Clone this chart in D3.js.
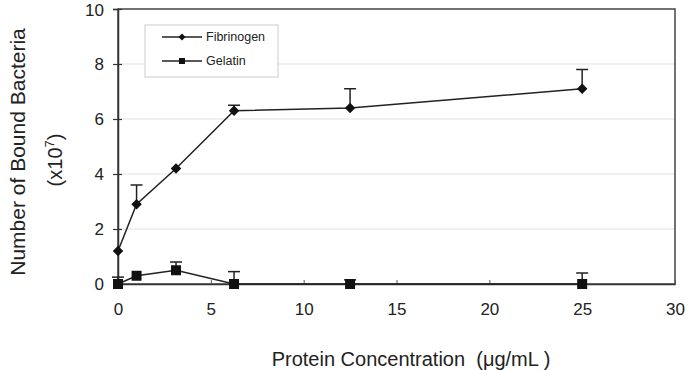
<!DOCTYPE html>
<html>
<head>
<meta charset="utf-8">
<script src="https://cdn.jsdelivr.net/npm/d3@7"></script>
<style>
  body { margin: 0; background: #fff; }
  text { font-family: "Liberation Sans", Arial, sans-serif; fill: #222; }
</style>
</head>
<body>
<div id="chart"></div>
<script>
// Data
const concentrations = [0, 1, 3.125, 6.25, 12.5, 25];
const fibrinogen = [1.2, 2.9, 4.2, 6.3, 6.4, 7.1];
const fibrinogenErr = [0, 0.7, 0, 0.2, 0.7, 0.7];
const gelatin = [0, 0.3, 0.5, 0, 0, 0];
const gelatinErr = [0.25, 0, 0.3, 0.45, 0.15, 0.4];
const xTicks = [0, 5, 10, 15, 20, 25, 30];
const yTicks = [0, 2, 4, 6, 8, 10];

const W = 689, H = 370;
const margin = { top: 9, right: 14, bottom: 86, left: 118 };
const width = W - margin.left - margin.right;
const height = H - margin.top - margin.bottom;

const svg = d3.select('#chart').append('svg')
    .attr('width', W)
    .attr('height', H);

const g = svg.append('g')
    .attr('transform', `translate(${margin.left},${margin.top})`);

const x = d3.scaleLinear().domain([0, 30]).range([0, width]);
const y = d3.scaleLinear().domain([0, 10]).range([height, 0]);

// gridlines
g.selectAll('.grid')
    .data(yTicks.filter(d => d > 0 && d < 10))
    .enter().append('line')
    .attr('x1', 0).attr('x2', width)
    .attr('y1', d => y(d)).attr('y2', d => y(d))
    .attr('stroke', '#e2e2e2')
    .attr('stroke-width', 1.2);

// plot border
g.append('rect')
    .attr('width', width).attr('height', height)
    .attr('fill', 'none')
    .attr('stroke', '#444')
    .attr('stroke-width', 1.5);

// y axis
const yAxis = g.append('g')
    .call(d3.axisLeft(y).tickValues(yTicks).tickSize(5).tickPadding(9));
yAxis.select('.domain').attr('stroke', '#333').attr('stroke-width', 1.5);
yAxis.selectAll('.tick line').attr('stroke', '#333').attr('x2', 4).attr('x1', -5).attr('stroke-width', 1.2);
yAxis.selectAll('text').style('font-size', '17px').attr('fill', '#222');
yAxis.selectAll('.tick').filter(d => d === 10).select('text').attr('dy', '0.4em');

// x axis
const xAxis = g.append('g')
    .attr('transform', `translate(0,${height})`)
    .call(d3.axisBottom(x).tickValues(xTicks).tickSize(0).tickPadding(19));
xAxis.select('.domain').attr('stroke', '#333').attr('stroke-width', 1.5);
xAxis.selectAll('.tick line').attr('stroke', '#555').attr('y1', -4).attr('y2', 0);
xAxis.selectAll('text').style('font-size', '17px').attr('fill', '#222');

// axis titles
svg.append('text')
    .attr('transform', `translate(25,152) rotate(-90)`)
    .attr('text-anchor', 'middle')
    .style('font-size', '21px')
    .text('Number of Bound Bacteria');

const sub = svg.append('text')
    .attr('transform', `translate(62,160) rotate(-90)`)
    .attr('text-anchor', 'middle')
    .style('font-size', '20px');
sub.append('tspan').text('(x10');
sub.append('tspan').attr('dy', -8).style('font-size', '13px').text('7');
sub.append('tspan').attr('dy', 8).text(')');

svg.append('text')
    .attr('x', 411).attr('y', 366)
    .attr('text-anchor', 'middle')
    .style('font-size', '20px')
    .attr('xml:space', 'preserve')
    .text('Protein Concentration  (\u03bcg/mL )');

// series
function drawSeries(values, errs, symbolType, size, rot) {
    const pts = concentrations.map((c, i) => ({ x: c, y: values[i], e: errs[i] }));

    g.append('path')
        .datum(pts)
        .attr('fill', 'none')
        .attr('stroke', '#222')
        .attr('stroke-width', 1.5)
        .attr('d', d3.line().x(d => x(d.x)).y(d => y(d.y)));

    const eb = g.selectAll(null)
        .data(pts.filter(d => d.e > 0))
        .enter().append('g');
    eb.append('line')
        .attr('x1', d => x(d.x)).attr('x2', d => x(d.x))
        .attr('y1', d => y(d.y)).attr('y2', d => y(d.y + d.e))
        .attr('stroke', '#222').attr('stroke-width', 1.5);
    eb.append('line')
        .attr('x1', d => x(d.x) - 6).attr('x2', d => x(d.x) + 6)
        .attr('y1', d => y(d.y + d.e)).attr('y2', d => y(d.y + d.e))
        .attr('stroke', '#222').attr('stroke-width', 1.5);

    g.selectAll(null)
        .data(pts)
        .enter().append('path')
        .attr('transform', d => `translate(${x(d.x)},${y(d.y)}) rotate(${rot})`)
        .attr('d', d3.symbol().type(symbolType).size(size))
        .attr('fill', '#111');
}

drawSeries(fibrinogen, fibrinogenErr, d3.symbolSquare, 55, 45);
drawSeries(gelatin, gelatinErr, d3.symbolSquare, 100, 0);

// legend
const legend = svg.append('g').attr('transform', 'translate(145,25)');
legend.append('rect')
    .attr('width', 133).attr('height', 52)
    .attr('fill', '#fff')
    .attr('stroke', '#ccc');

const legendItems = [
    { name: 'Fibrinogen', size: 24, rot: 45 },
    { name: 'Gelatin', size: 36, rot: 0 }
];
legendItems.forEach((it, i) => {
    const row = legend.append('g').attr('transform', `translate(0,${12 + i * 24})`);
    row.append('line')
        .attr('x1', 17).attr('x2', 57)
        .attr('stroke', '#222').attr('stroke-width', 1.5);
    row.append('path')
        .attr('transform', `translate(37,0) rotate(${it.rot})`)
        .attr('d', d3.symbol().type(d3.symbolSquare).size(it.size))
        .attr('fill', '#111');
    row.append('text')
        .attr('x', 61).attr('y', 4)
        .style('font-size', '12.5px')
        .attr('fill', '#333')
        .text(it.name);
});
</script>
</body>
</html>
